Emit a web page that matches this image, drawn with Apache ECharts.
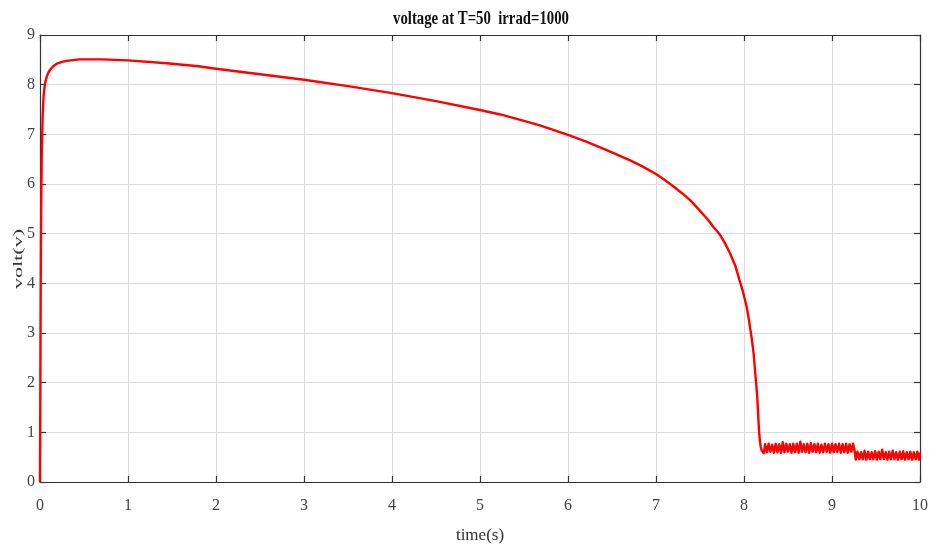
<!DOCTYPE html>
<html>
<head>
<meta charset="utf-8">
<title>voltage at T=50 irrad=1000</title>
<script src="https://cdn.jsdelivr.net/npm/echarts@6/dist/echarts.min.js"></script>
<style>
  html, body { margin: 0; padding: 0; background: #ffffff; }
  #chart { width: 929px; height: 545px; }
</style>
</head>
<body>
<div id="chart"></div>
<script>
// Panel voltage trace: start-up, slow decay, collapse near 8.2 s, then noisy floor.
const riseTime = [0, 0.003, 0.006, 0.01, 0.015, 0.02, 0.03, 0.04, 0.05, 0.06,
  0.08, 0.1, 0.12, 0.15, 0.2, 0.25, 0.3, 0.45, 0.7, 1.0,
  1.44, 1.8, 2.0, 2.5, 3.0, 3.5, 4.0, 4.5, 5.0, 5.23,
  5.5, 5.68, 6.0, 6.2, 6.44, 6.7, 6.85, 7.0, 7.1, 7.2,
  7.3, 7.39, 7.47, 7.55, 7.6, 7.65, 7.69, 7.73, 7.78, 7.84,
  7.9, 7.95, 7.99, 8.03, 8.06, 8.09, 8.11, 8.125, 8.14, 8.15,
  8.16, 8.17, 8.18, 8.19, 8.20, 8.21, 8.225];
const riseVolt = [0, 1.5, 3.0, 4.6, 5.8, 6.6, 7.35, 7.75, 7.93, 8.05,
  8.18, 8.26, 8.31, 8.37, 8.43, 8.46, 8.48, 8.51, 8.51, 8.49,
  8.43, 8.37, 8.32, 8.21, 8.10, 7.97, 7.83, 7.67, 7.49, 7.40,
  7.27, 7.18, 6.99, 6.86, 6.68, 6.48, 6.35, 6.20, 6.08, 5.95,
  5.81, 5.67, 5.52, 5.36, 5.26, 5.14, 5.06, 4.97, 4.82, 4.61,
  4.36, 4.06, 3.82, 3.53, 3.22, 2.86, 2.58, 2.25, 1.95, 1.72,
  1.40, 1.05, 0.84, 0.71, 0.64, 0.60, 0.58];

// Ripple band after the collapse (first level)
const floorTimeA = [8.24, 8.26, 8.28, 8.30, 8.32, 8.34, 8.36, 8.38, 8.40, 8.42,
  8.44, 8.46, 8.48, 8.50, 8.52, 8.54, 8.56, 8.58, 8.60, 8.62,
  8.64, 8.66, 8.68, 8.70, 8.72, 8.74, 8.76, 8.78, 8.80, 8.82,
  8.84, 8.86, 8.88, 8.90, 8.92, 8.94, 8.96, 8.98, 9.00, 9.02,
  9.04, 9.06, 9.08, 9.10, 9.12, 9.14, 9.16, 9.18, 9.20, 9.22,
  9.24, 9.26];
const floorVoltA = [0.76, 0.60, 0.77, 0.61, 0.75, 0.59, 0.77, 0.60, 0.76, 0.59,
  0.80, 0.60, 0.77, 0.61, 0.76, 0.59, 0.77, 0.60, 0.77, 0.59,
  0.81, 0.61, 0.76, 0.60, 0.77, 0.59, 0.78, 0.61, 0.76, 0.60,
  0.77, 0.59, 0.75, 0.60, 0.77, 0.61, 0.76, 0.59, 0.77, 0.60,
  0.76, 0.61, 0.77, 0.59, 0.76, 0.60, 0.77, 0.59, 0.76, 0.61,
  0.77, 0.60];

// Ripple band (second, lower level)
const floorTimeB = [9.27, 9.29, 9.31, 9.33, 9.35, 9.37, 9.39, 9.41, 9.43, 9.45,
  9.47, 9.49, 9.51, 9.53, 9.55, 9.57, 9.59, 9.61, 9.63, 9.65,
  9.67, 9.69, 9.71, 9.73, 9.75, 9.77, 9.79, 9.81, 9.83, 9.85,
  9.87, 9.89, 9.91, 9.93, 9.95, 9.97, 9.99, 10.00];
const floorVoltB = [0.45, 0.61, 0.46, 0.60, 0.46, 0.63, 0.45, 0.61, 0.46, 0.60,
  0.46, 0.62, 0.45, 0.61, 0.46, 0.65, 0.46, 0.60, 0.45, 0.61,
  0.46, 0.63, 0.46, 0.60, 0.45, 0.61, 0.46, 0.62, 0.45, 0.60,
  0.46, 0.61, 0.45, 0.60, 0.46, 0.61, 0.45, 0.59];

const xTicks = { min: 0, max: 10, interval: 1 };
const yTicks = { min: 0, max: 9, interval: 1 };

const titleText = 'voltage at T=50  irrad=1000';
const xName = 'time(s)';
const yName = 'volt(v)';

function pairs(ts, vs) {
  return ts.map((t, i) => [t, vs[i]]);
}
const trace = pairs(riseTime, riseVolt)
  .concat(pairs(floorTimeA, floorVoltA))
  .concat(pairs(floorTimeB, floorVoltB));

const serif = 'Liberation Serif, Times New Roman, serif';
const axisColor = '#333333';

function valueAxis(range, extra) {
  return Object.assign({
    type: 'value',
    min: range.min,
    max: range.max,
    interval: range.interval,
    axisLine: { show: true, onZero: false, lineStyle: { color: axisColor, width: 1.2 } },
    axisTick: { show: true, inside: true, length: 6, lineStyle: { color: axisColor, width: 1.2 } },
    splitLine: { show: false },
    axisLabel: { show: false }
  }, extra);
}

const chart = echarts.init(document.getElementById('chart'), null, { renderer: 'canvas' });
chart.setOption({
  animation: false,
  backgroundColor: '#ffffff',
  graphic: [{
    // bold, slightly condensed heading
    type: 'text',
    x: 481,
    y: 19,
    scaleX: 0.82,
    style: {
      text: titleText,
      font: 'bold 18px ' + serif,
      fill: '#111111',
      align: 'center',
      verticalAlign: 'middle'
    }
  }, {
    // vertical axis caption, drawn tall and narrow
    type: 'text',
    x: 19,
    y: 259,
    rotation: Math.PI / 2,
    scaleX: 1.7,
    style: {
      text: yName,
      font: '13px ' + serif,
      fill: '#333333',
      align: 'center',
      verticalAlign: 'middle'
    }
  }],
  grid: { left: 40, right: 9, top: 35, bottom: 63, containLabel: false, outerBoundsMode: 'none' },
  xAxis: [
    valueAxis(xTicks, {
      position: 'bottom',
      name: xName,
      nameLocation: 'middle',
      nameGap: 45,
      nameMoveOverlap: false,
      nameTextStyle: { fontFamily: serif, fontSize: 17, color: '#333333' },
      splitLine: { show: true, lineStyle: { color: '#dcdcdc', width: 1 } },
      axisLabel: { show: true, margin: 16, fontFamily: serif, fontSize: 16, color: '#444444' }
    }),
    valueAxis(xTicks, { position: 'top' })
  ],
  yAxis: [
    valueAxis(yTicks, {
      position: 'left',
      splitLine: { show: true, lineStyle: { color: '#dcdcdc', width: 1 } },
      axisLabel: { show: true, margin: 5, fontFamily: serif, fontSize: 16, color: '#444444' }
    }),
    valueAxis(yTicks, { position: 'right' })
  ],
  series: [{
    type: 'line',
    data: trace,
    showSymbol: false,
    symbol: 'none',
    sampling: null,
    lineStyle: { color: '#ff0000', width: 2.4, join: 'round' },
    itemStyle: { color: '#ff0000' },
    z: 5
  }]
});
</script>
</body>
</html>
